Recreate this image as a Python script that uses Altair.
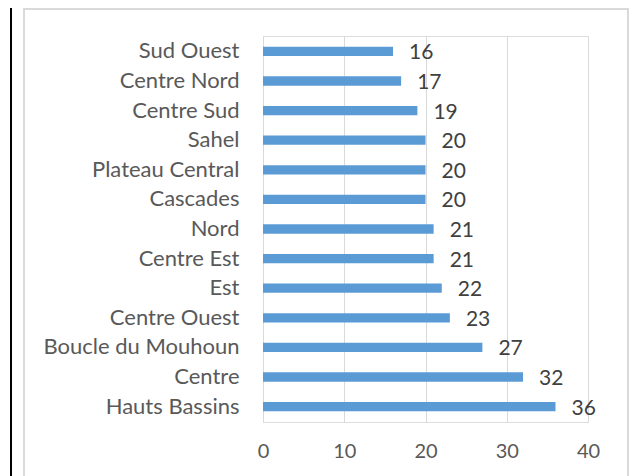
import altair as alt
import pandas as pd

regions = ["Sud Ouest", "Centre Nord", "Centre Sud", "Sahel", "Plateau Central",
           "Cascades", "Nord", "Centre Est", "Est", "Centre Ouest",
           "Boucle du Mouhoun", "Centre", "Hauts Bassins"]
values = [16, 17, 19, 20, 20, 20, 21, 21, 22, 23, 27, 32, 36]
x_ticks = [0, 10, 20, 30, 40]

df = pd.DataFrame({"region": regions, "value": values})

FONT = "Lato"
TXT = "#595959"
W, H = 325, 386

y_enc = alt.Y("region:N", sort=regions, title=None,
              scale=alt.Scale(paddingInner=0.686, paddingOuter=0.363),
              axis=alt.Axis(ticks=False, domain=False, labelPadding=24,
                            labelLimit=400,
                            labelFont=FONT, labelFontSize=22, labelColor=TXT,
                            grid=False))
x_enc = alt.X("value:Q", title=None,
              scale=alt.Scale(domain=[0, 40], nice=False),
              axis=alt.Axis(values=x_ticks, ticks=False, domain=False,
                            labelFlush=False, labelBound=False,
                            labelPadding=19, labelFont=FONT, labelFontSize=20,
                            labelColor=TXT, grid=True, gridColor="#D9D9D9",
                            gridWidth=1))

bars = alt.Chart(df).mark_bar(color="#5B9BD5").encode(y=y_enc, x=x_enc)

labels = alt.Chart(df).mark_text(align="left", baseline="middle", dx=16, dy=2,
                                 font=FONT, fontSize=21, color="#404040").encode(
    y=alt.Y("region:N", sort=regions), x=alt.X("value:Q"), text="value:Q")

frame_color = "#D9D9D9"
frame_l = alt.Chart(df).mark_rule(color=frame_color, strokeWidth=2).encode(
    x=alt.value(-239), y=alt.value(-28), y2=alt.value(H + 60))
frame_r = alt.Chart(df).mark_rule(color=frame_color, strokeWidth=2).encode(
    x=alt.value(365), y=alt.value(-28), y2=alt.value(H + 60))
frame_t = alt.Chart(df).mark_rule(color=frame_color, strokeWidth=2).encode(
    x=alt.value(-239), x2=alt.value(365), y=alt.value(-27))
doc_line = alt.Chart(df).mark_rule(color="#000000", strokeWidth=2).encode(
    x=alt.value(-252), y=alt.value(-28), y2=alt.value(H + 60))

chart = alt.layer(bars, labels, frame_l, frame_r, frame_t, doc_line).properties(
    width=W, height=H,
    autosize=alt.AutoSizeParams(type="none"),
    padding={"left": 255, "top": 28, "right": 41, "bottom": 54},
).configure_view(stroke=None).configure(background="white")

chart.save("out.html", embed_options={"renderer": "svg", "actions": False})
